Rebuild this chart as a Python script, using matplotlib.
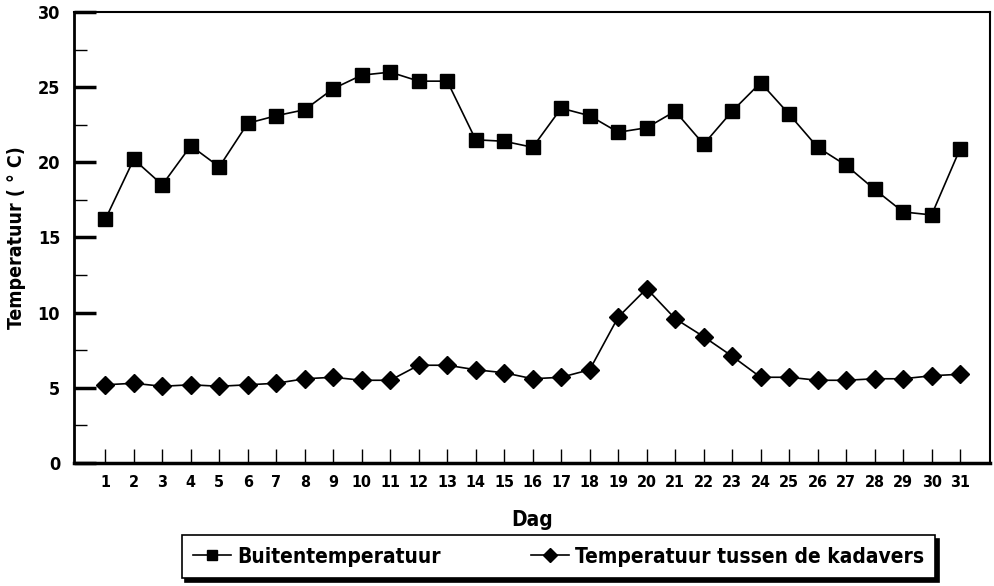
import numpy as np
import matplotlib
matplotlib.use('Agg')
import matplotlib.pyplot as plt
from matplotlib.ticker import MultipleLocator

plt.rcParams['font.family'] = ['Liberation Sans Narrow', 'DejaVu Sans']
plt.rcParams['font.weight'] = 'bold'
plt.rcParams['font.stretch'] = 'condensed'

days = list(range(1, 32))
buiten = [16.2, 20.2, 18.5, 21.1, 19.7, 22.6, 23.1, 23.5, 24.9, 25.8,
          26.0, 25.4, 25.4, 21.5, 21.4, 21.0, 23.6, 23.1, 22.0, 22.3,
          23.4, 21.2, 23.4, 25.3, 23.2, 21.0, 19.8, 18.2, 16.7, 16.5, 20.9]
kadavers = [5.2, 5.3, 5.1, 5.2, 5.1, 5.2, 5.3, 5.6, 5.7, 5.5,
            5.5, 6.5, 6.5, 6.2, 6.0, 5.6, 5.7, 6.2, 9.7, 11.6,
            9.6, 8.4, 7.1, 5.7, 5.7, 5.5, 5.5, 5.6, 5.6, 5.8, 5.9]

fig = plt.figure(figsize=(9.94, 5.86), dpi=100)
ax = fig.add_axes([0.0744, 0.21, 0.9216, 0.7695])

ax.plot(days, buiten, color='black', lw=1.2, marker='s', ms=10, label='Buitentemperatuur')
ax.plot(days, kadavers, color='black', lw=1.2, marker='D', ms=9,
        label='Temperatuur tussen de kadavers')

ax.set_xlim(-0.1, 32.05)
ax.set_ylim(0, 30)
ax.set_xticks(days)
ax.yaxis.set_major_locator(MultipleLocator(5))
ax.yaxis.set_minor_locator(MultipleLocator(2.5))
ax.tick_params(axis='y', which='major', direction='in', length=16, width=2.5, labelsize=13, pad=10)
ax.tick_params(axis='y', which='minor', direction='in', length=9, width=1)
ax.tick_params(axis='x', direction='in', length=10, width=1, labelsize=11.5, pad=9)
for lab in ax.get_xticklabels() + ax.get_yticklabels():
    lab.set_fontweight('bold')
for s in ax.spines.values():
    s.set_linewidth(1.5)
ax.spines['bottom'].set_linewidth(2.5)
ax.spines['left'].set_linewidth(2)

ax.set_xlabel('Dag', fontsize=15, fontweight='bold', labelpad=14)
ax.set_ylabel('Temperatuur ( ° C)', fontsize=14, fontweight='bold', labelpad=8)

leg = ax.legend(loc='upper center', bbox_to_anchor=(0.529, -0.137), ncol=2,
                frameon=True, fancybox=False, shadow={'color': 'black', 'alpha': 1, 'ox': 2.5, 'oy': -2.5},
                edgecolor='black', handlelength=1.8, handletextpad=0.3, markerscale=0.75,
                columnspacing=4.35, borderpad=0.55, borderaxespad=0.5,
                prop={'weight': 'bold', 'size': 15})
leg.get_frame().set_linewidth(1.2)

fig.savefig('out.png', dpi=100)
